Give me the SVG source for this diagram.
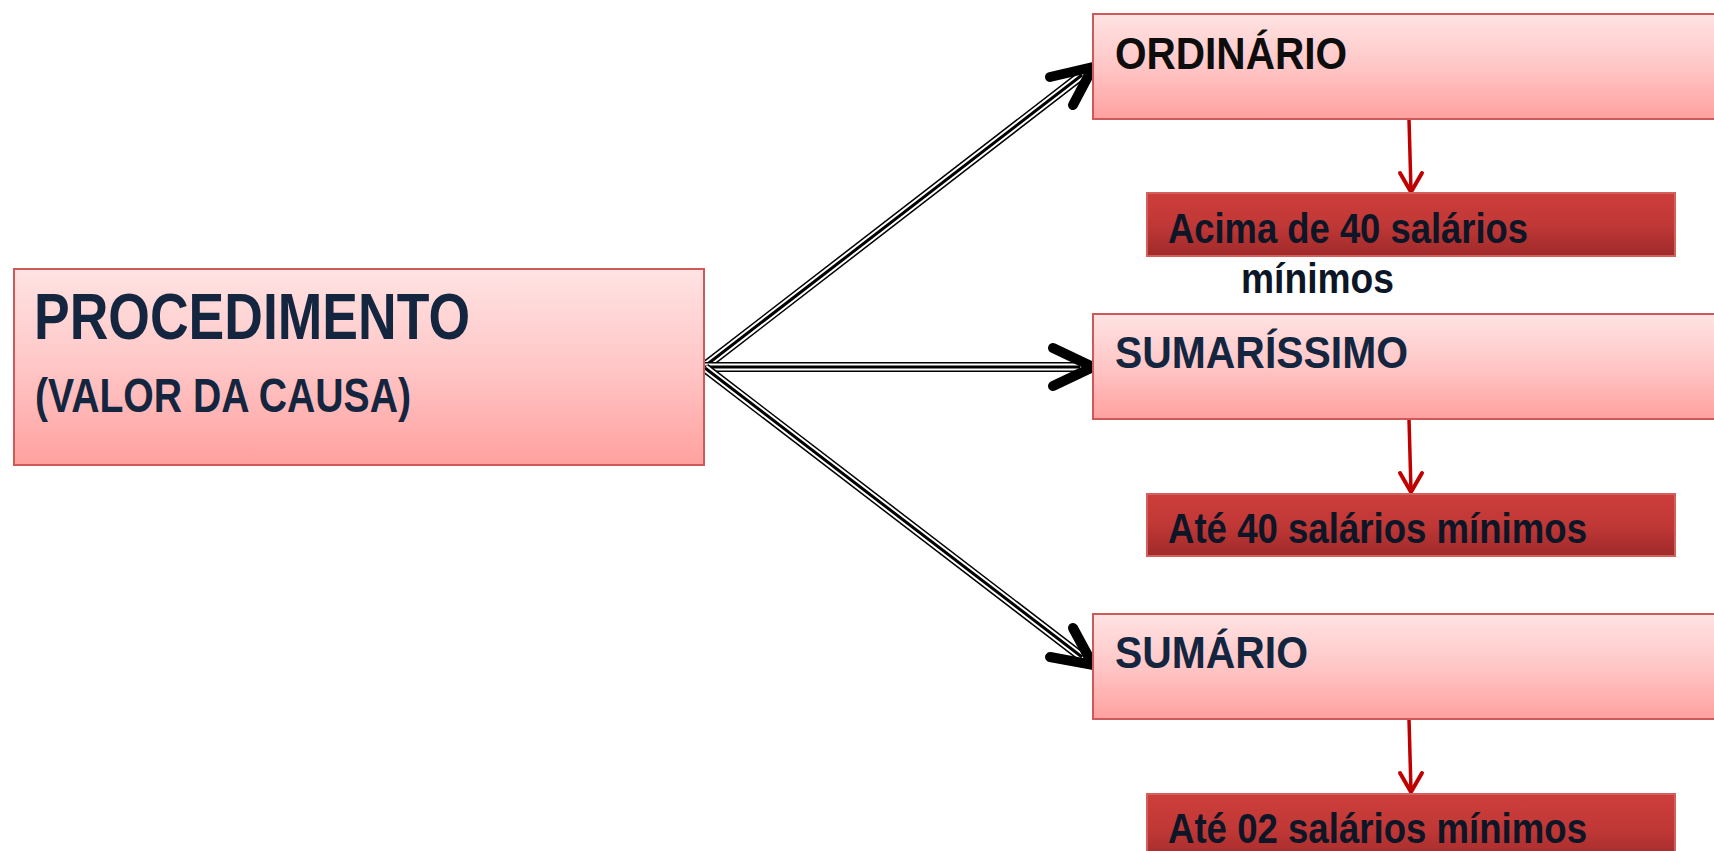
<svg xmlns="http://www.w3.org/2000/svg" width="1714" height="851" viewBox="0 0 1714 851">
<defs>
<linearGradient id="pink" x1="0" y1="0" x2="0" y2="1">
<stop offset="0" stop-color="#ffe3e3"/>
<stop offset="0.5" stop-color="#ffc6c6"/>
<stop offset="1" stop-color="#ffa19f"/>
</linearGradient>
<linearGradient id="red" x1="0" y1="0" x2="0" y2="1">
<stop offset="0" stop-color="#cd3e3b"/>
<stop offset="0.5" stop-color="#c03836"/>
<stop offset="1" stop-color="#9f2a2a"/>
</linearGradient>
</defs>
<style>
.pbox{fill:url(#pink);stroke:#cd5a58;stroke-width:2}
.rbox{fill:url(#red);stroke:#d4605d;stroke-width:2}
.t{font-family:"Liberation Sans",Arial,sans-serif;font-weight:bold;fill:#13253f}
.st{font-family:"Liberation Sans",Arial,sans-serif;font-weight:bold;fill:#0c1626}
.blk{fill:none;stroke:#000;stroke-linecap:butt}
.wht{fill:none;stroke:#fff;stroke-width:7}
.head{fill:none;stroke:#000;stroke-width:10;stroke-linecap:round;stroke-linejoin:miter}
.rline{fill:none;stroke:#c00000;stroke-width:3.5}
.rhead{fill:none;stroke:#c00000;stroke-width:4;stroke-linecap:round;stroke-linejoin:miter}
</style>
<rect width="1714" height="851" fill="#fff"/>

<g id="connectors">
<g id="c-ord">
<line class="blk" x1="705" y1="366" x2="1082" y2="75" stroke-width="10"/>
<line class="wht" x1="705" y1="366" x2="1082" y2="75"/>
<line class="blk" x1="705" y1="366" x2="1082" y2="75" stroke-width="3"/>
<path class="head" d="M1050,77 L1093,67 L1073,105"/>
</g>
<g id="c-sum2">
<line class="blk" x1="705" y1="367" x2="1080" y2="367" stroke-width="10"/>
<line class="wht" x1="705" y1="367" x2="1080" y2="367"/>
<line class="blk" x1="705" y1="367" x2="1080" y2="367" stroke-width="3"/>
<path class="head" d="M1053,348 L1093,367 L1053,386"/>
</g>
<g id="c-sum">
<line class="blk" x1="705" y1="368" x2="1082" y2="657" stroke-width="10"/>
<line class="wht" x1="705" y1="368" x2="1082" y2="657"/>
<line class="blk" x1="705" y1="368" x2="1082" y2="657" stroke-width="3"/>
<path class="head" d="M1073,628 L1093,665 L1050,657"/>
</g>
<g id="r1">
<line class="rline" x1="1409" y1="119" x2="1411" y2="191"/>
<path class="rhead" d="M1400,173 L1411,192 L1422,173"/>
</g>
<g id="r2">
<line class="rline" x1="1409" y1="419" x2="1411" y2="491"/>
<path class="rhead" d="M1400,473 L1411,492 L1422,473"/>
</g>
<g id="r3">
<line class="rline" x1="1409" y1="719" x2="1411" y2="791"/>
<path class="rhead" d="M1400,773 L1411,792 L1422,773"/>
</g>
</g>

<g id="procedimento">
<rect class="pbox" x="14" y="269" width="690" height="196"/>
<text class="t" x="34" y="339" font-size="64" textLength="436" lengthAdjust="spacingAndGlyphs">PROCEDIMENTO</text>
<text class="t" x="35" y="412" font-size="48" textLength="376" lengthAdjust="spacingAndGlyphs">(VALOR DA CAUSA)</text>
</g>

<g id="ordinario">
<rect class="pbox" x="1093" y="14" width="640" height="105"/>
<text class="t" x="1115" y="69" font-size="45" style="fill:#0d0d0d" textLength="232" lengthAdjust="spacingAndGlyphs">ORDINÁRIO</text>
</g>

<g id="acima">
<rect class="rbox" x="1147" y="193" width="528" height="63"/>
<text class="st" x="1168" y="243" font-size="42" textLength="360" lengthAdjust="spacingAndGlyphs">Acima de 40 salários</text>
<text class="st" x="1241" y="293" font-size="42" textLength="153" lengthAdjust="spacingAndGlyphs">mínimos</text>
</g>

<g id="sumarissimo">
<rect class="pbox" x="1093" y="314" width="640" height="105"/>
<text class="t" x="1115" y="368" font-size="45" textLength="293" lengthAdjust="spacingAndGlyphs">SUMARÍSSIMO</text>
</g>

<g id="ate40">
<rect class="rbox" x="1147" y="494" width="528" height="62"/>
<text class="st" x="1168" y="543" font-size="42" textLength="419" lengthAdjust="spacingAndGlyphs">Até 40 salários mínimos</text>
</g>

<g id="sumario">
<rect class="pbox" x="1093" y="614" width="640" height="105"/>
<text class="t" x="1115" y="668" font-size="45" textLength="193" lengthAdjust="spacingAndGlyphs">SUMÁRIO</text>
</g>

<g id="ate02">
<rect class="rbox" x="1147" y="794" width="528" height="70"/>
<text class="st" x="1168" y="843" font-size="42" textLength="419" lengthAdjust="spacingAndGlyphs">Até 02 salários mínimos</text>
</g>
</svg>
